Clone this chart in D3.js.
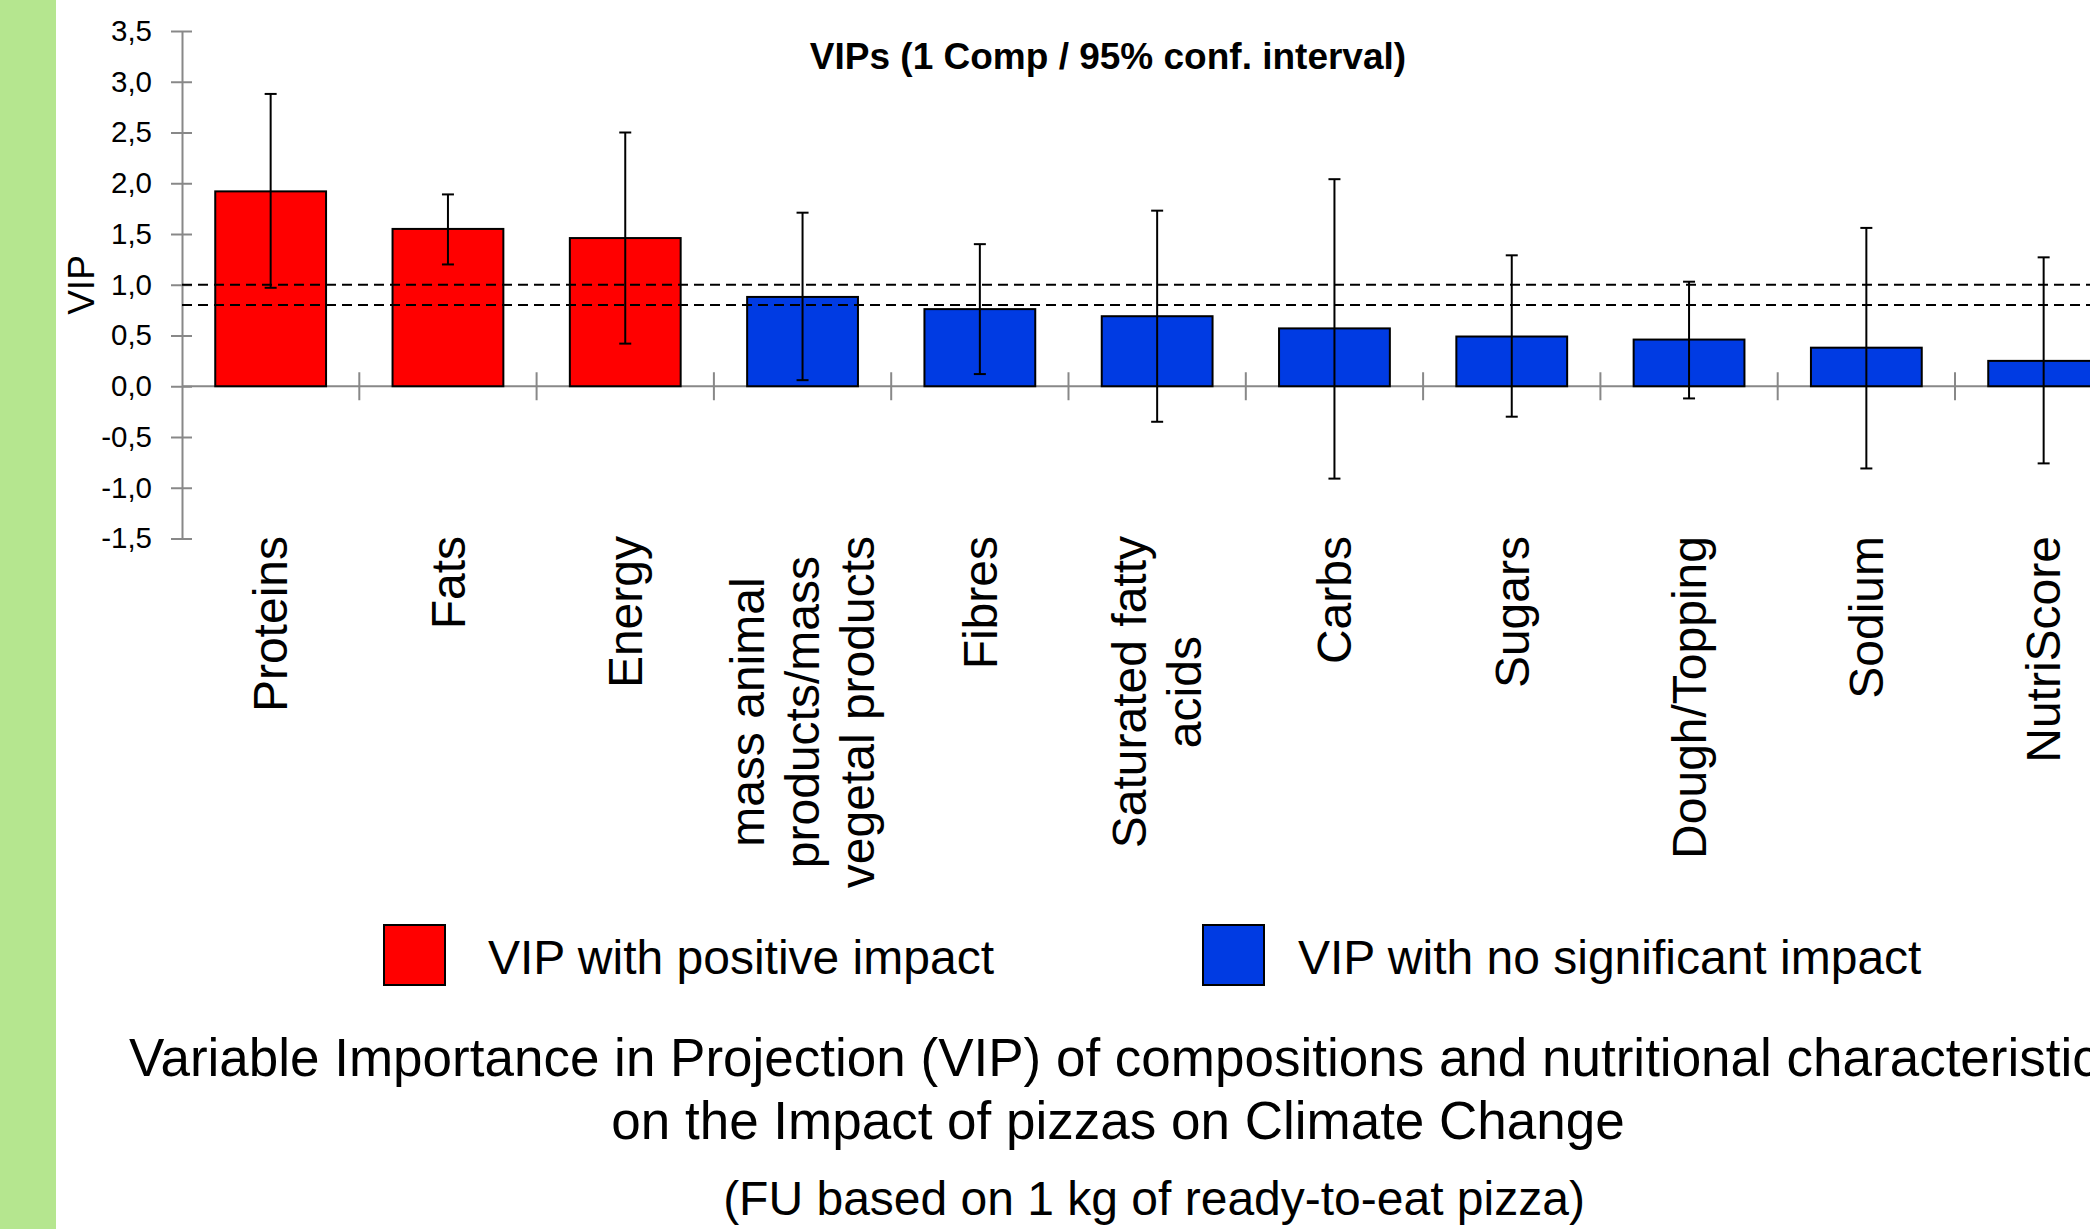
<!DOCTYPE html>
<html>
<head>
<meta charset="utf-8">
<script src="https://cdn.jsdelivr.net/npm/d3@7"></script>
<style>
  body { margin: 0; background: #fff; overflow: hidden; }
  text { font-family: "Liberation Sans", Arial, sans-serif; fill: #000; }
</style>
</head>
<body>
<div id="chart"></div>
<script>
// data
const categories = ["Proteins", "Fats", "Energy", "mass animal\nproducts/mass\nvegetal products",
  "Fibres", "Saturated fatty\nacids", "Carbs", "Sugars", "Dough/Topping", "Sodium", "NutriScore"];
const vip =      [1.92, 1.55, 1.46, 0.88, 0.76, 0.69, 0.57, 0.49, 0.46, 0.38, 0.25];
const ciHigh =   [2.88, 1.89, 2.50, 1.71, 1.40, 1.73, 2.04, 1.29, 1.03, 1.56, 1.27];
const ciLow =    [0.97, 1.20, 0.42, 0.06, 0.12, -0.35, -0.91, -0.30, -0.12, -0.81, -0.76];
const impact =   ["pos", "pos", "pos", "none", "none", "none", "none", "none", "none", "none", "none"];
const yTicks = [-1.5, -1.0, -0.5, 0, 0.5, 1.0, 1.5, 2.0, 2.5, 3.0, 3.5];
const thresholds = [1.0, 0.8];
const legendLabels = ["VIP with positive impact", "VIP with no significant impact"];
const subtitle = ["Variable Importance in Projection (VIP) of compositions and nutritional characteristics",
  "on the Impact of pizzas on Climate Change"];
const footnote = "(FU based on 1 kg of ready-to-eat pizza)";

const W = 2090, H = 1229;
const colors = { pos: "#ff0000", none: "#003be3" };

const svg = d3.select("#chart").append("svg")
  .attr("width", W).attr("height", H);

// green side strip
svg.append("rect").attr("x", 0).attr("y", 0).attr("width", 56).attr("height", H)
  .attr("fill", "#b5e68f");

const x0 = 182, band = 177.3;
const x = d3.scaleBand()
  .domain(d3.range(categories.length))
  .range([x0, x0 + band * categories.length]);
const y = d3.scaleLinear().domain([-1.5, 3.5]).range([538.5, 31]);
const barW = x.bandwidth() * 0.625;

// y axis
const yAxis = d3.axisLeft(y).tickValues(yTicks).tickSize(0)
  .tickFormat(d => d.toFixed(1).replace(".", ","));
const ya = svg.append("g").attr("transform", `translate(${x0},0)`).call(yAxis);
ya.select(".domain").attr("stroke", "#888").attr("stroke-width", 2);
ya.selectAll(".tick text").attr("x", -30).attr("font-size", 29.5)
  .attr("font-family", "Liberation Sans, Arial, sans-serif").attr("fill", "#000");
ya.selectAll(".tick").append("line")
  .attr("x1", -11).attr("x2", 10).attr("stroke", "#888").attr("stroke-width", 2);

svg.append("text")
  .attr("transform", `translate(94,285) rotate(-90)`)
  .attr("text-anchor", "middle").attr("font-size", 37).text("VIP");

// x axis at zero
svg.append("line").attr("x1", x0).attr("x2", W)
  .attr("y1", y(0)).attr("y2", y(0)).attr("stroke", "#888").attr("stroke-width", 2);
svg.append("g").selectAll("line")
  .data(d3.range(1, categories.length + 1))
  .join("line")
  .attr("x1", i => x0 + band * i).attr("x2", i => x0 + band * i)
  .attr("y1", y(0) - 14).attr("y2", y(0) + 14)
  .attr("stroke", "#888").attr("stroke-width", 2);

// bars
svg.append("g").selectAll("rect")
  .data(vip)
  .join("rect")
  .attr("x", (d, i) => x(i) + (x.bandwidth() - barW) / 2)
  .attr("y", d => y(d))
  .attr("width", barW)
  .attr("height", d => y(0) - y(d))
  .attr("fill", (d, i) => colors[impact[i]])
  .attr("stroke", "#000").attr("stroke-width", 2);

// threshold lines
svg.append("g").selectAll("line")
  .data(thresholds)
  .join("line")
  .attr("x1", x0).attr("x2", W)
  .attr("y1", d => y(d)).attr("y2", d => y(d))
  .attr("stroke", "#000").attr("stroke-width", 2).attr("stroke-dasharray", "10,6");

// error bars
const eb = svg.append("g").attr("stroke", "#000").attr("stroke-width", 2);
vip.forEach((v, i) => {
  const cx = x(i) + x.bandwidth() / 2;
  eb.append("line").attr("x1", cx).attr("x2", cx).attr("y1", y(ciHigh[i])).attr("y2", y(ciLow[i]));
  [ciHigh[i], ciLow[i]].forEach(c => {
    eb.append("line").attr("x1", cx - 6).attr("x2", cx + 6).attr("y1", y(c)).attr("y2", y(c));
  });
});

// title
svg.append("text").attr("x", 1108).attr("y", 69)
  .attr("text-anchor", "middle").attr("font-size", 37).attr("font-weight", "bold")
  .text("VIPs (1 Comp / 95% conf. interval)");

// category labels, rotated, top-aligned, lines centered
const fs = 48, lh = 55;
categories.forEach((c, i) => {
  const lines = c.split("\n");
  const g = svg.append("g")
    .attr("transform", `translate(${x(i) + x.bandwidth() / 2},536) rotate(-90)`);
  const t = g.selectAll("text").data(lines).join("text")
    .attr("font-size", fs)
    .attr("y", (d, k) => (k - (lines.length - 1) / 2) * lh)
    .attr("dy", "0.35em")
    .text(d => d);
  const maxLen = d3.max(t.nodes(), n => n.getComputedTextLength());
  t.attr("text-anchor", "middle").attr("x", -maxLen / 2);
});

// legend
const legX = [384, 1203], legTextX = [488, 1298];
legendLabels.forEach((l, i) => {
  svg.append("rect").attr("x", legX[i]).attr("y", 925).attr("width", 61).attr("height", 60)
    .attr("fill", colors[i === 0 ? "pos" : "none"]).attr("stroke", "#000").attr("stroke-width", 2);
  svg.append("text").attr("x", legTextX[i]).attr("y", 974).attr("font-size", 48).text(l);
});

// caption
svg.append("text").attr("x", 129).attr("y", 1076).attr("font-size", 53).text(subtitle[0]);
svg.append("text").attr("x", 1118).attr("y", 1139).attr("font-size", 53)
  .attr("text-anchor", "middle").text(subtitle[1]);
svg.append("text").attr("x", 1154).attr("y", 1215).attr("font-size", 48)
  .attr("text-anchor", "middle").text(footnote);
</script>
</body>
</html>
